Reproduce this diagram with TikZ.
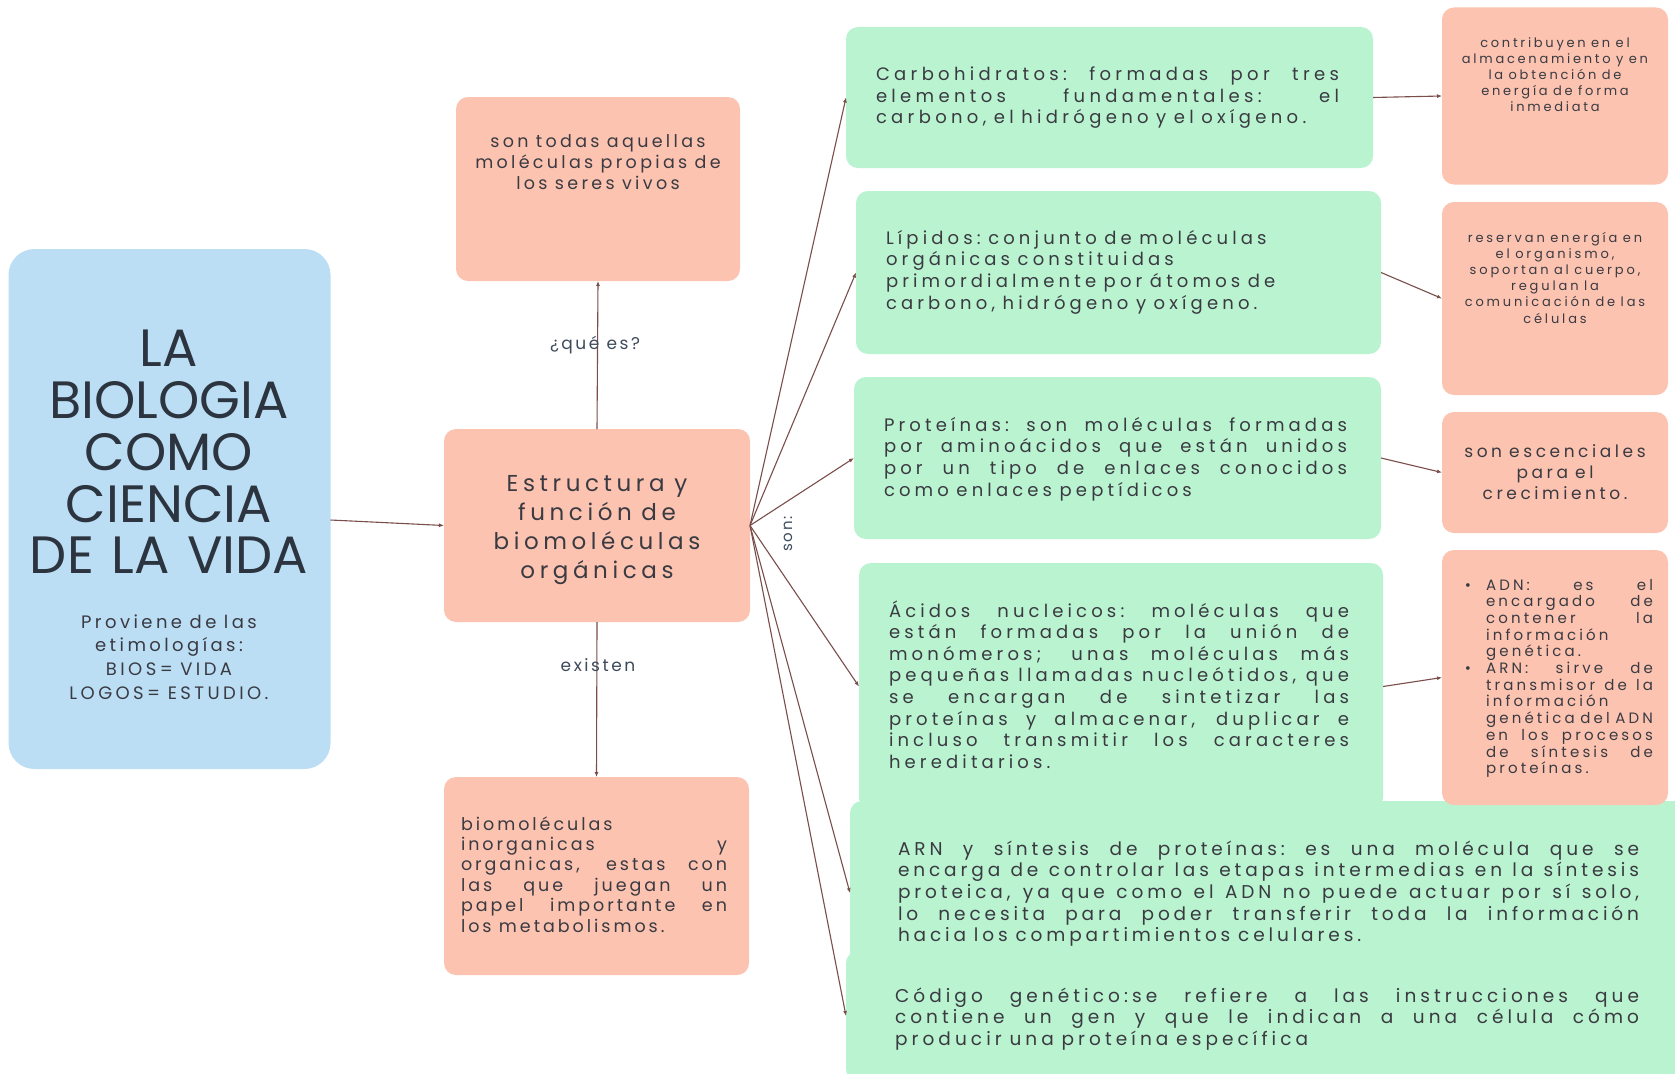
\documentclass[tikz,border=0pt]{standalone}
\usepackage{fontspec}
\setmainfont{Poppins}
\usetikzlibrary{arrows.meta}
\definecolor{bluec}{HTML}{BBDEF4}
\definecolor{pinkc}{HTML}{FBC3B0}
\definecolor{greenc}{HTML}{BAF3D0}
\definecolor{textc}{HTML}{3A3A42}
\definecolor{titlec}{HTML}{2C3440}
\definecolor{labc}{HTML}{3D4B5C}
\definecolor{linec}{HTML}{7A4E4A}
\newcommand\fs[3]{\fontsize{#1pt}{#2pt}\selectfont\addfontfeature{LetterSpace=#3}}
% stretchable spaces for justified lines, rigid ones for centred/ragged text
\newcommand\sk{\spaceskip=0.42em plus 1em minus 0.15em\xspaceskip=\spaceskip\relax}
\newcommand\skc{\spaceskip=0.42em\xspaceskip=\spaceskip\relax}
\newcommand\jl[1]{\makebox[\linewidth][s]{#1}\\}
\newcommand\bul{\llap{•\hspace{15pt}}}
\begin{document}
\begin{tikzpicture}[x=1pt,y=-1pt,
  box/.style={rounded corners=12pt, inner sep=0pt, outer sep=0pt, anchor=north west},
  pbox/.style={box, fill=pinkc},
  gbox/.style={box, fill=greenc},
  txt/.style={inner sep=0pt, outer sep=0pt, text=textc},
  lab/.style={inner sep=0pt, text=labc, font=\fs{17}{20}{15}},
  conn/.style={draw=linec, line width=1.1pt, -{Latex[length=5pt,width=4pt]}}]
\useasboundingbox (0,0) rectangle (1675,1073);
\clip (0,0) rectangle (1675,1073);
\fill[white] (0,0) rectangle (1675,1073);

% boxes
\node[box, fill=bluec, rounded corners=26pt, minimum width=322pt, minimum height=520pt] (blue) at (8.5,249) {};
\node[pbox, minimum width=284pt, minimum height=184pt] (sontodas) at (456,97) {};
\node[pbox, minimum width=306pt, minimum height=193pt] (estr) at (444,429) {};
\node[pbox, minimum width=305pt, minimum height=198pt] (bioin) at (444,777) {};
\node[gbox, minimum width=527pt, minimum height=141pt] (carb) at (846,27) {};
\node[gbox, minimum width=525pt, minimum height=163pt] (lip) at (856,191) {};
\node[gbox, minimum width=527pt, minimum height=162pt] (prot) at (854,377) {};
\node[gbox, minimum width=524pt, minimum height=247pt] (acid) at (859,563) {};
\node[gbox, minimum width=860pt, minimum height=184pt] (arn) at (850,801) {};
\node[gbox, minimum width=860pt, minimum height=130pt] (cod) at (846,951) {};
\node[pbox, minimum width=226pt, minimum height=177pt] (r1) at (1442,7.5) {};
\node[pbox, minimum width=226pt, minimum height=193pt] (r2) at (1442,202) {};
\node[pbox, minimum width=226pt, minimum height=121pt] (r3) at (1442,412) {};
\node[pbox, minimum width=226pt, minimum height=255pt] (r4) at (1442,550) {};

% texts
\node[txt, text=titlec, anchor=center, text width=320pt, align=center, font=\fontsize{52.5pt}{51.8pt}\selectfont] (title) at (169,452)
  {LA\\BIOLOGIA\\COMO\\CIENCIA\\DE LA VIDA};
\node[txt, anchor=base, text width=300pt, align=center, font=\fs{18}{23.7}{19}] (etim) at (169,628)
  {\skc Proviene de las\\etimologías:\\BIOS= VIDA\\LOGOS= ESTUDIO.};
\node[txt, anchor=base, text width=280pt, align=center, font=\fs{17.5}{21}{19}] (tsontodas) at (598,147)
  {\skc son todas aquellas\\moléculas propias de\\los seres vivos};
\node[txt, anchor=base, text width=300pt, align=center, font=\fs{23}{29}{20}] (testr) at (597,491)
  {\skc Estructura y\\función de\\biomoléculas\\orgánicas};
\node[txt, anchor=base west, text width=266pt, align=left, font=\fs{17.5}{20.4}{17}] (tbioin) at (461,830)
  {\sk biomoléculas\\
   \jl{inorganicas y}
   \jl{organicas, estas con}
   \jl{las que juegan un}
   \jl{papel importante en}
   los metabolismos.};
\node[txt, anchor=base west, text width=463pt, align=left, font=\fs{18}{21.5}{24}] (tcarb) at (876,81)
  {\sk\jl{Carbohidratos: formadas por tres}
   \jl{elementos fundamentales: el}
   carbono, el hidrógeno y el oxígeno.};
\node[txt, anchor=base west, text width=470pt, align=left, font=\fs{18}{21.7}{23}] (tlip) at (886,244)
  {\skc Lípidos: conjunto de moléculas\\orgánicas constituidas\\primordialmente por átomos de\\carbono, hidrógeno y oxígeno.};
\node[txt, anchor=base west, text width=463pt, align=left, font=\fs{18}{21.7}{23}] (tprot) at (884,431)
  {\sk\jl{Proteínas: son moléculas formadas}
   \jl{por aminoácidos que están unidos}
   \jl{por un tipo de enlaces conocidos}
   como enlaces peptídicos};
\node[txt, anchor=base west, text width=460pt, align=left, font=\fs{18}{21.6}{23}] (tacid) at (889,617)
  {\sk\jl{Ácidos nucleicos: moléculas que}
   \jl{están formadas por la unión de}
   \jl{monómeros; unas moléculas más}
   \jl{pequeñas llamadas nucleótidos, que}
   \jl{se encargan de sintetizar las}
   \jl{proteínas y almacenar, duplicar e}
   \jl{incluso transmitir los caracteres}
   hereditarios.};
\node[txt, anchor=base west, text width=741pt, align=left, font=\fs{18.5}{21.7}{21}] (tarn) at (898,855)
  {\sk\jl{ARN y síntesis de proteínas: es una molécula que se}
   \jl{encarga de controlar las etapas intermedias en la síntesis}
   \jl{proteica, ya que como el ADN no puede actuar por sí solo,}
   \jl{lo necesita para poder transferir toda la información}
   hacia los compartimientos celulares.};
\node[txt, anchor=base west, text width=744pt, align=left, font=\fs{18.5}{21.5}{22}] (tcod) at (895,1002)
  {\sk\jl{Código genético:se refiere a las instrucciones que}
   \jl{contiene un gen y que le indican a una célula cómo}
   producir una proteína específica};
\node[txt, anchor=base, text width=220pt, align=center, font=\fs{13}{15.8}{21}] (tr1) at (1555,48)
  {\skc contribuyen en el\\almacenamiento y en\\la obtención de\\energía de forma\\inmediata};
\node[txt, anchor=base, text width=220pt, align=center, font=\fs{13}{16.2}{22}] (tr2) at (1555,242)
  {\skc reservan energía en\\el organismo,\\soportan al cuerpo,\\regulan la\\comunicación de las\\células};
\node[txt, anchor=base, text width=220pt, align=center, font=\fs{17}{21}{21}] (tr3) at (1555,457)
  {\skc son escenciales\\para el\\crecimiento.};
\node[txt, anchor=base west, text width=167pt, align=left, font=\fs{15}{16.7}{21}] (tr4) at (1486,590)
  {\sk\jl{\bul ADN: es el}
   \jl{encargado de}
   \jl{contener la}
   información\\
   genética.\\
   \jl{\bul ARN: sirve de}
   \jl{transmisor de la}
   información\\
   \jl{genética del ADN}
   \jl{en los procesos}
   \jl{de síntesis de}
   proteínas.};

% connectors
\draw[conn] ([yshift=-11pt]blue.east) -- (estr.west);
\draw[conn] (estr.north) -- (sontodas.south);
\draw[conn] (estr.south) -- (bioin.north);
\draw[conn] (estr.east) -- (carb.west);
\draw[conn] (estr.east) -- (lip.west);
\draw[conn] (estr.east) -- (prot.west);
\draw[conn] (estr.east) -- (acid.west);
\draw[conn] (estr.east) -- (arn.west);
\draw[conn] (estr.east) -- (cod.west);
\draw[conn] (carb.east) -- (r1.west);
\draw[conn] (lip.east) -- (r2.west);
\draw[conn] (prot.east) -- (r3.west);
\draw[conn] (acid.east) -- (r4.west);

% labels
\node[lab] (lq) at (595,345) {\skc ¿qué es?};
\node[lab] (lex) at (598,665) {existen};
\node[lab, rotate=90, font=\fs{15}{18}{10}] (lson) at (788,534) {son:};
\end{tikzpicture}
\end{document}
